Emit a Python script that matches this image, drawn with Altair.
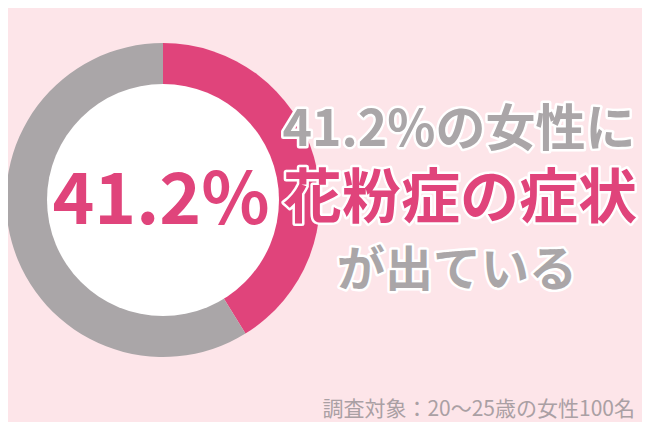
import altair as alt
import pandas as pd

categories = ["花粉症の症状が出ている", "出ていない"]
values = [41.2, 58.8]
center_label = ["41.2%"]
headline = ["41.2%の女性に", "花粉症の症状", "が出ている"]
note = ["調査対象：20〜25歳の女性100名"]

PINK = "#e0447b"
GREY = "#aaa6a8"
BG = "#fde5e9"
FONT = "Noto Sans CJK JP"

df = pd.DataFrame({"cat": categories, "val": values, "ord": [0, 1]})

CX, CY = 155, 192

ring = alt.Chart(df).mark_arc(radius=157, radius2=0, stroke=None).encode(
    theta=alt.Theta("val:Q", stack=True),
    order=alt.Order("ord:Q"),
    color=alt.Color("cat:N", scale=alt.Scale(domain=categories, range=[PINK, GREY]), legend=None),
    x=alt.value(CX), y=alt.value(CY),
)

hole = alt.Chart(pd.DataFrame({"a": [1]})).mark_arc(
    theta=0, theta2=6.2832, radius=116, fill="white", stroke=None
).encode(x=alt.value(CX), y=alt.value(CY))

def txt(text, x, y, size, color, align="center", sw=5):
    d = pd.DataFrame({"t": [text]})
    return [
        alt.Chart(d).mark_text(
            font=FONT, fontWeight="bold", fontSize=size, align=align, baseline="middle",
            stroke="white", strokeWidth=sw, strokeJoin="round", fill="white"
        ).encode(text="t:N", x=alt.value(x), y=alt.value(y)),
        alt.Chart(d).mark_text(
            font=FONT, fontWeight="bold", fontSize=size, align=align,
            baseline="middle", fill=color
        ).encode(text="t:N", x=alt.value(x), y=alt.value(y)),
    ]

layers = [ring, hole]
layers += txt(center_label[0], 153, 195, 71, PINK, sw=4)
layers += txt(headline[0], 451, 123, 50, GREY)
layers += txt(headline[1], 452, 192, 59, PINK)
layers += txt(headline[2], 449, 264, 48, GREY)
nd = pd.DataFrame({"t": note})
layers.append(alt.Chart(nd).mark_text(
    font=FONT, fontSize=21, align="right", baseline="middle", fill="#aaa0a4"
).encode(text="t:N", x=alt.value(627), y=alt.value(402)))

chart = alt.layer(*layers).properties(
    width=634, height=414, background=BG, padding=0,
    autosize=alt.AutoSizeParams(type="none"),
).configure_view(stroke=None)

chart.save("out.html", embed_options={"renderer": "svg", "actions": False})
